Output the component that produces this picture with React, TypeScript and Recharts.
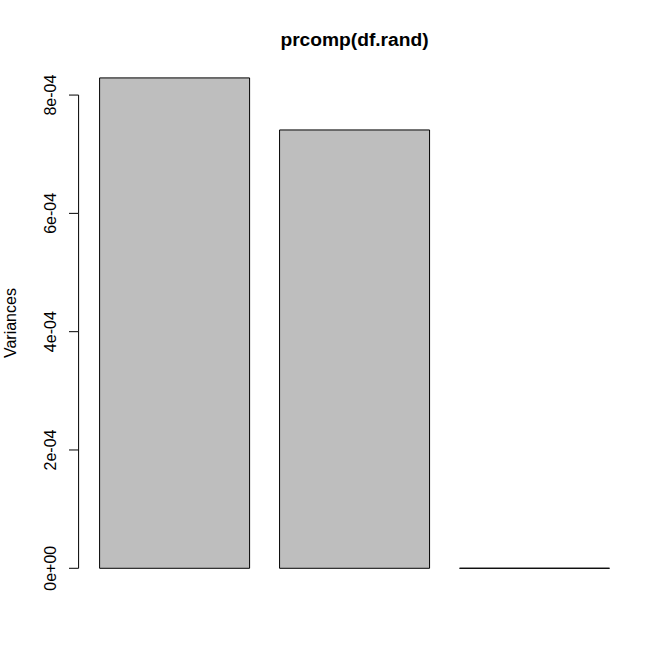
import { Bar, BarChart, XAxis, YAxis } from 'recharts'

const components = ['PC1', 'PC2', 'PC3']
const variances = [8.29e-4, 7.41e-4, 1e-7]
const yTicks = [0, 2e-4, 4e-4, 6e-4, 8e-4]
const yTickLabels = ['0e+00', '2e-04', '4e-04', '6e-04', '8e-04']

const data = components.map((pc, i) => ({ pc, variance: variances[i] }))

const W = 671
const H = 671
const MARGIN = { top: 58.3, right: 46.5, bottom: 83.1, left: 0 }
const AXIS_X = 78.6
const maxVar = Math.max(...variances)
const Y_MIN = -0.04 * maxVar
const Y_MAX = 1.04 * maxVar
const PLOT_H = H - MARGIN.top - MARGIN.bottom
const PX_PER_UNIT = PLOT_H / (Y_MAX - Y_MIN)
const FONT = '"Liberation Sans", Arial, Helvetica, sans-serif'

function YTick(props: any) {
  const { y, payload } = props
  const i = yTicks.indexOf(payload.value)
  const last = i === yTicks.length - 1
  const step = last ? 0 : (yTicks[i + 1] - yTicks[i]) * PX_PER_UNIT
  const lx = 56
  return (
    <g>
      <line x1={AXIS_X - 9.6} x2={AXIS_X} y1={y} y2={y} stroke="#000" />
      {!last && <line x1={AXIS_X} x2={AXIS_X} y1={y} y2={y - step} stroke="#000" />}
      <text
        x={lx}
        y={y}
        transform={`rotate(-90 ${lx} ${y})`}
        textAnchor="middle"
        fontSize={16}
        fontFamily={FONT}
        fill="#000"
      >
        {yTickLabels[i]}
      </text>
    </g>
  )
}

export default function App() {
  const midY = MARGIN.top + PLOT_H / 2
  return (
    <div style={{ position: 'absolute', left: 0, top: 0, width: W, height: H, background: '#fff' }}>
      <BarChart width={W} height={H} data={data} margin={MARGIN} barCategoryGap={15}>
        <XAxis dataKey="pc" hide padding={{ left: 6, right: 0 }} />
        <YAxis
          type="number"
          domain={[Y_MIN, Y_MAX]}
          allowDataOverflow
          ticks={yTicks}
          interval={0}
          width={AXIS_X}
          axisLine={false}
          tickLine={false}
          tick={<YTick />}
        />
        <Bar dataKey="variance" fill="#bebebe" stroke="#000" strokeWidth={1} isAnimationActive={false} />
      </BarChart>
      <svg width={W} height={H} style={{ position: 'absolute', left: 0, top: 0, pointerEvents: 'none' }}>
        <text x={354.5} y={46} textAnchor="middle" fontSize={19.2} fontWeight="bold" fontFamily={FONT} fill="#000">
          prcomp(df.rand)
        </text>
        <text
          x={16.5}
          y={midY}
          transform={`rotate(-90 16.5 ${midY})`}
          textAnchor="middle"
          fontSize={16}
          fontFamily={FONT}
          fill="#000"
        >
          Variances
        </text>
      </svg>
    </div>
  )
}
